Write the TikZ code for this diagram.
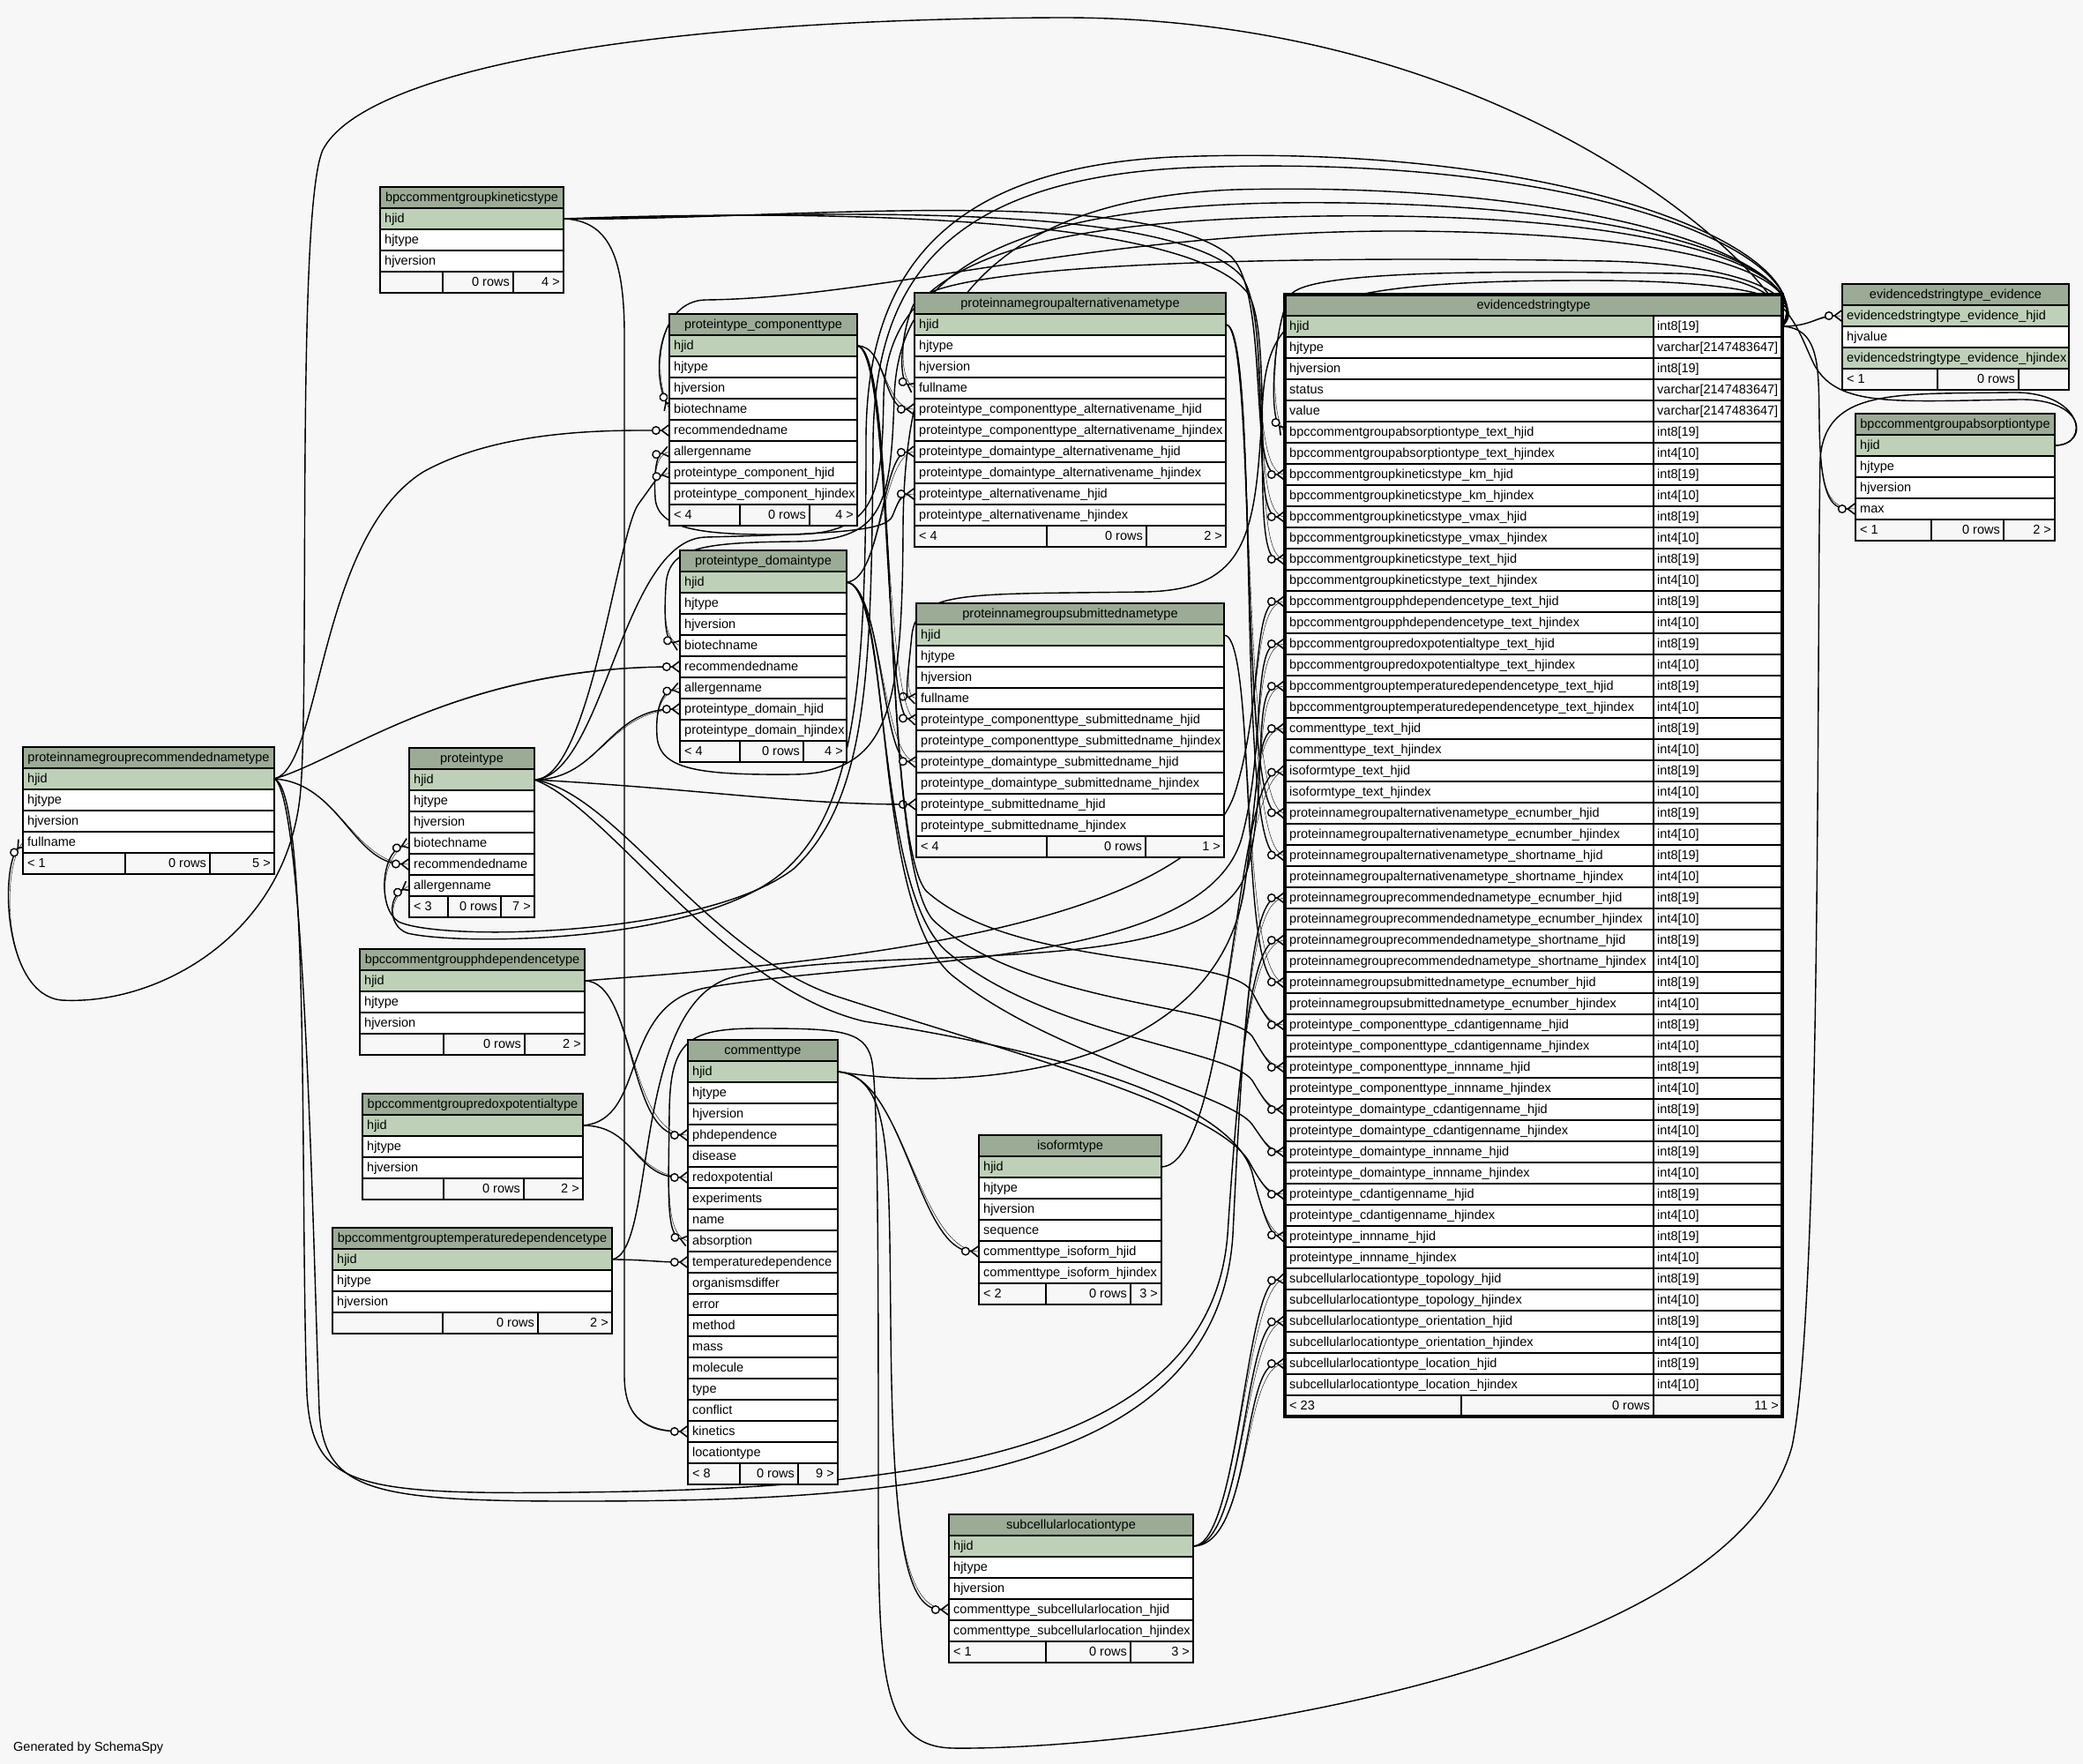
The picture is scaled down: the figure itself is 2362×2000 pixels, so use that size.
\documentclass[tikz,border=0pt]{standalone}
\usepackage{fontspec}
\setmainfont{Liberation Sans}
\usetikzlibrary{arrows.meta}

\definecolor{canvas}{HTML}{F7F7F7}
\definecolor{hdrfill}{HTML}{9BAB96}
\definecolor{keyfill}{HTML}{BED1B8}

\pgfdeclarelayer{canvaslayer}
\pgfdeclarelayer{edgelayer}
\pgfsetlayers{canvaslayer,edgelayer,main}

\tikzset{
  cell/.style={draw=black, line width=1.2pt},
  celltext/.style={inner sep=0pt, font=\fontsize{14.5}{17}\selectfont, text=black},
  fk/.style={line width=1.4pt, draw=black, preaction={draw, -},
    -{Circle[open, fill=white, length=10pt, width=10pt, line width=1.4pt] Straight Barb[reversed, length=8pt, width=12pt, line width=1.6pt]}},
}

% table: name, left x, top y, width, title, type-column x (0 = none), rows text/type/key
\newcommand{\dbtable}[7]{%
  \fill[hdrfill] (#2,#3) rectangle ++(#4,24);
  \draw[cell] (#2,#3) rectangle ++(#4,24);
  \node[celltext, anchor=base] (#1) at ({#2+#4/2},{#3+16.5}) {#5};
  \foreach \rtxt/\rtyp/\rkey [count=\ri] in {#7} {%
    \pgfmathsetmacro{\yt}{#3+24*\ri}%
    \ifnum\rkey=1 \fill[keyfill] (#2,\yt) rectangle ++(#4,24);\else\fill[white] (#2,\yt) rectangle ++(#4,24);\fi
    \ifdim #6pt>0pt
      \fill[white] (#6,\yt) rectangle ({#2+#4},{\yt+24});
      \draw[cell] (#6,\yt) -- ++(0,24);
      \node[celltext, anchor=base west] (#1-\ri-t) at ({#6+4},{\yt+16.5}) {\rtyp};
    \fi
    \draw[cell] (#2,\yt) rectangle ++(#4,24);
    \node[celltext, anchor=base west] (#1-\ri) at ({#2+5},{\yt+16.5}) {\rtxt};
    \coordinate (#1-\ri-w) at (#2,{\yt+12});
    \coordinate (#1-\ri-e) at ({#2+#4},{\yt+12});
  }%
}

% footer: name, x, y, width, divider 1, divider 2, left, middle, right
\newcommand{\dbfoot}[9]{%
  \fill[canvas] (#2,#3) rectangle ++(#4,24);
  \draw[cell] (#2,#3) rectangle ++(#4,24);
  \draw[cell] (#5,#3) -- ++(0,24) (#6,#3) -- ++(0,24);
  \node[celltext, anchor=base west] (#1-fl) at ({#2+5},{#3+16.5}) {#7};
  \node[celltext, anchor=base east] (#1-fm) at ({#6-4},{#3+16.5}) {#8};
  \node[celltext, anchor=base east] (#1-fr) at ({#2+#4-4},{#3+16.5}) {#9};
}

\begin{document}
\begin{tikzpicture}[x=1pt,y=-1pt]
\useasboundingbox (0,0) rectangle (2362,2000);
\begin{pgfonlayer}{canvaslayer}
  \fill[canvas] (0,0) rectangle (2362,2000);
\end{pgfonlayer}

% ---------- tables ----------
\dbtable{rec}{26}{847}{285}{proteinnamegrouprecommendednametype}{0}{hjid//1,hjtype//0,hjversion//0,fullname//0}
\dbfoot{rec}{26}{967}{285}{142}{238}{< 1}{0 rows}{5 >}

\dbtable{kin}{431}{212}{208}{bpccommentgroupkineticstype}{0}{hjid//1,hjtype//0,hjversion//0}
\dbfoot{kin}{431}{308}{208}{502}{582}{}{0 rows}{4 >}

\dbtable{comp}{759}{356}{213}{proteintype\_componenttype}{0}{hjid//1,hjtype//0,hjversion//0,biotechname//0,recommendedname//0,allergenname//0,proteintype\_component\_hjid//0,proteintype\_component\_hjindex//0}
\dbfoot{comp}{759}{572}{213}{839}{918}{< 4}{0 rows}{4 >}

\dbtable{dom}{771}{624}{189}{proteintype\_domaintype}{0}{hjid//1,hjtype//0,hjversion//0,biotechname//0,recommendedname//0,allergenname//0,proteintype\_domain\_hjid//0,proteintype\_domain\_hjindex//0}
\dbfoot{dom}{771}{840}{189}{839}{911}{< 4}{0 rows}{4 >}

\dbtable{alt}{1037}{332}{353}{proteinnamegroupalternativenametype}{0}{hjid//1,hjtype//0,hjversion//0,fullname//0,%
proteintype\_componenttype\_alternativename\_hjid//0,%
proteintype\_componenttype\_alternativename\_hjindex//0,%
proteintype\_domaintype\_alternativename\_hjid//0,%
proteintype\_domaintype\_alternativename\_hjindex//0,%
proteintype\_alternativename\_hjid//0,%
proteintype\_alternativename\_hjindex//0}
\dbfoot{alt}{1037}{596}{353}{1187}{1300}{< 4}{0 rows}{2 >}

\dbtable{sub}{1039}{684}{349}{proteinnamegroupsubmittednametype}{0}{hjid//1,hjtype//0,hjversion//0,fullname//0,%
proteintype\_componenttype\_submittedname\_hjid//0,%
proteintype\_componenttype\_submittedname\_hjindex//0,%
proteintype\_domaintype\_submittedname\_hjid//0,%
proteintype\_domaintype\_submittedname\_hjindex//0,%
proteintype\_submittedname\_hjid//0,%
proteintype\_submittedname\_hjindex//0}
\dbfoot{sub}{1039}{948}{349}{1187}{1299}{< 4}{0 rows}{1 >}

\dbtable{pt}{464}{848}{142}{proteintype}{0}{hjid//1,hjtype//0,hjversion//0,biotechname//0,recommendedname//0,allergenname//0}
\dbfoot{pt}{464}{1016}{142}{508}{568}{< 3}{0 rows}{7 >}

\dbtable{ph}{408}{1076}{255}{bpccommentgroupphdependencetype}{0}{hjid//1,hjtype//0,hjversion//0}
\dbfoot{ph}{408}{1172}{255}{503}{595}{}{0 rows}{2 >}

\dbtable{rx}{411}{1240}{250}{bpccommentgroupredoxpotentialtype}{0}{hjid//1,hjtype//0,hjversion//0}
\dbfoot{rx}{411}{1336}{250}{503}{594}{}{0 rows}{2 >}

\dbtable{tmp}{377}{1392}{317}{bpccommentgrouptemperaturedependencetype}{0}{hjid//1,hjtype//0,hjversion//0}
\dbfoot{tmp}{377}{1488}{317}{502}{610}{}{0 rows}{2 >}

\dbtable{cm}{780}{1179}{170}{commenttype}{0}{hjid//1,hjtype//0,hjversion//0,phdependence//0,disease//0,redoxpotential//0,experiments//0,name//0,absorption//0,temperaturedependence//0,organismsdiffer//0,error//0,method//0,mass//0,molecule//0,type//0,conflict//0,kinetics//0,locationtype//0}
\dbfoot{cm}{780}{1659}{170}{839}{905}{< 8}{0 rows}{9 >}

\dbtable{iso}{1110}{1287}{207}{isoformtype}{0}{hjid//1,hjtype//0,hjversion//0,sequence//0,commenttype\_isoform\_hjid//0,commenttype\_isoform\_hjindex//0}
\dbfoot{iso}{1110}{1455}{207}{1186}{1282}{< 2}{0 rows}{3 >}

\dbtable{scl}{1076}{1717}{277}{subcellularlocationtype}{0}{hjid//1,hjtype//0,hjversion//0,commenttype\_subcellularlocation\_hjid//0,commenttype\_subcellularlocation\_hjindex//0}
\dbfoot{scl}{1076}{1861}{277}{1186}{1282}{< 1}{0 rows}{3 >}

\dbtable{ev}{2089}{322}{257}{evidencedstringtype\_evidence}{0}{evidencedstringtype\_evidence\_hjid//1,hjvalue//0,evidencedstringtype\_evidence\_hjindex//1}
\dbfoot{ev}{2089}{418}{257}{2197}{2289}{< 1}{0 rows}{}

\dbtable{ab}{2104}{469}{226}{bpccommentgroupabsorptiontype}{0}{hjid//1,hjtype//0,hjversion//0,max//0}
\dbfoot{ab}{2104}{589}{226}{2190}{2272}{< 1}{0 rows}{2 >}

\dbtable{evid}{1457}{334}{564}{evidencedstringtype}{1875}{hjid/int8[19]/1,hjtype/varchar[2147483647]/0,hjversion/int8[19]/0,status/varchar[2147483647]/0,value/varchar[2147483647]/0,%
bpccommentgroupabsorptiontype\_text\_hjid/int8[19]/0,%
bpccommentgroupabsorptiontype\_text\_hjindex/int4[10]/0,%
bpccommentgroupkineticstype\_km\_hjid/int8[19]/0,%
bpccommentgroupkineticstype\_km\_hjindex/int4[10]/0,%
bpccommentgroupkineticstype\_vmax\_hjid/int8[19]/0,%
bpccommentgroupkineticstype\_vmax\_hjindex/int4[10]/0,%
bpccommentgroupkineticstype\_text\_hjid/int8[19]/0,%
bpccommentgroupkineticstype\_text\_hjindex/int4[10]/0,%
bpccommentgroupphdependencetype\_text\_hjid/int8[19]/0,%
bpccommentgroupphdependencetype\_text\_hjindex/int4[10]/0,%
bpccommentgroupredoxpotentialtype\_text\_hjid/int8[19]/0,%
bpccommentgroupredoxpotentialtype\_text\_hjindex/int4[10]/0,%
bpccommentgrouptemperaturedependencetype\_text\_hjid/int8[19]/0,%
bpccommentgrouptemperaturedependencetype\_text\_hjindex/int4[10]/0,%
commenttype\_text\_hjid/int8[19]/0,%
commenttype\_text\_hjindex/int4[10]/0,%
isoformtype\_text\_hjid/int8[19]/0,%
isoformtype\_text\_hjindex/int4[10]/0,%
proteinnamegroupalternativenametype\_ecnumber\_hjid/int8[19]/0,%
proteinnamegroupalternativenametype\_ecnumber\_hjindex/int4[10]/0,%
proteinnamegroupalternativenametype\_shortname\_hjid/int8[19]/0,%
proteinnamegroupalternativenametype\_shortname\_hjindex/int4[10]/0,%
proteinnamegrouprecommendednametype\_ecnumber\_hjid/int8[19]/0,%
proteinnamegrouprecommendednametype\_ecnumber\_hjindex/int4[10]/0,%
proteinnamegrouprecommendednametype\_shortname\_hjid/int8[19]/0,%
proteinnamegrouprecommendednametype\_shortname\_hjindex/int4[10]/0,%
proteinnamegroupsubmittednametype\_ecnumber\_hjid/int8[19]/0,%
proteinnamegroupsubmittednametype\_ecnumber\_hjindex/int4[10]/0,%
proteintype\_componenttype\_cdantigenname\_hjid/int8[19]/0,%
proteintype\_componenttype\_cdantigenname\_hjindex/int4[10]/0,%
proteintype\_componenttype\_innname\_hjid/int8[19]/0,%
proteintype\_componenttype\_innname\_hjindex/int4[10]/0,%
proteintype\_domaintype\_cdantigenname\_hjid/int8[19]/0,%
proteintype\_domaintype\_cdantigenname\_hjindex/int4[10]/0,%
proteintype\_domaintype\_innname\_hjid/int8[19]/0,%
proteintype\_domaintype\_innname\_hjindex/int4[10]/0,%
proteintype\_cdantigenname\_hjid/int8[19]/0,%
proteintype\_cdantigenname\_hjindex/int4[10]/0,%
proteintype\_innname\_hjid/int8[19]/0,%
proteintype\_innname\_hjindex/int4[10]/0,%
subcellularlocationtype\_topology\_hjid/int8[19]/0,%
subcellularlocationtype\_topology\_hjindex/int4[10]/0,%
subcellularlocationtype\_orientation\_hjid/int8[19]/0,%
subcellularlocationtype\_orientation\_hjindex/int4[10]/0,%
subcellularlocationtype\_location\_hjid/int8[19]/0,%
subcellularlocationtype\_location\_hjindex/int4[10]/0}
\dbfoot{evid}{1457}{1582}{564}{1657}{1875}{< 23}{0 rows}{11 >}
\draw[line width=3.5pt] (1457,334) rectangle (2021,1606);

\node[celltext, anchor=base west] (credit) at (15,1985) {Generated by SchemaSpy};

% ---------- foreign keys ----------
\begin{pgfonlayer}{edgelayer}
% evidencedstringtype.hjid to the columns that refer to it
\draw[fk] (evid-1-e) .. controls (2055,370) and (2060,358) .. (ev-1-w);
\draw[fk] (evid-1-e) .. controls (2065,372) and (2062,420) .. (2063,480) .. controls (2064,560) and (2075,577) .. (ab-4-w);
\draw[fk] (evid-1-e) .. controls (2048,345) and (2000,300) .. (1820,296) .. controls (1500,290) and (1060,295) .. (1036,345) .. controls (1022,375) and (1018,430) .. (alt-4-w);
\draw[fk] (evid-1-e) .. controls (2050,340) and (1990,318) .. (1800,318) .. controls (1480,318) and (1440,350) .. (1432,450) .. controls (1424,600) and (1420,668) .. (1300,671) .. controls (1100,674) and (1040,668) .. (1034,720) .. controls (1030,760) and (1026,790) .. (sub-4-w);
\draw[fk] (evid-1-e) .. controls (2055,320) and (1950,265) .. (1600,262) .. controls (1250,260) and (1000,338) .. (800,340) .. controls (748,341) and (738,420) .. (comp-4-w);
\draw[fk] (evid-1-e) .. controls (2060,310) and (1900,240) .. (1500,245) .. controls (1150,250) and (1005,300) .. (1002,450) .. controls (1000,560) and (995,605) .. (900,606) .. controls (800,607) and (746,602) .. (743,565) .. controls (741,535) and (745,515) .. (comp-6-w);
\draw[fk] (evid-1-e) .. controls (2062,300) and (1850,225) .. (1450,230) .. controls (1100,236) and (1018,330) .. (1014,450) .. controls (1010,580) and (1000,613) .. (900,614) .. controls (790,615) and (757,622) .. (755,665) .. controls (753,700) and (754,725) .. (dom-4-w);
\draw[fk] (evid-1-e) .. controls (2066,295) and (1800,205) .. (1400,215) .. controls (1080,228) and (1025,400) .. (1024,600) .. controls (1023,800) and (1010,877) .. (900,878) .. controls (790,879) and (748,872) .. (745,835) .. controls (743,805) and (750,785) .. (dom-6-w);
\draw[fk] (evid-1-e) .. controls (2066,290) and (1800,172) .. (1350,190) .. controls (1060,203) and (992,330) .. (990,500) .. controls (988,760) and (985,905) .. (900,985) .. controls (800,1062) and (500,1068) .. (452,1045) .. controls (428,1030) and (432,968) .. (pt-4-w);
\draw[fk] (evid-1-e) .. controls (2068,285) and (1780,160) .. (1330,178) .. controls (1050,192) and (982,330) .. (982,500) .. controls (982,770) and (972,925) .. (880,995) .. controls (780,1070) and (520,1072) .. (462,1058) .. controls (440,1050) and (440,1018) .. (pt-6-w);
\draw[fk] (evid-1-e) .. controls (2045,345) and (1750,18) .. (1200,20) .. controls (700,22) and (410,85) .. (366,170) .. controls (335,240) and (352,800) .. (340,905) .. controls (322,1060) and (180,1140) .. (70,1134) .. controls (4,1128) and (0,985) .. (rec-4-w);

% bpccommentgroupabsorptiontype.hjid
\draw[fk] (ab-1-e) .. controls (2368,505) and (2368,452) .. (2290,453) .. controls (2150,455) and (2085,462) .. (2058,415) .. controls (2035,370) and (2030,312) .. (1900,310) .. controls (1700,307) and (1480,306) .. (1463,335) .. controls (1445,365) and (1438,470) .. (evid-6-w);
\draw[fk] (ab-1-e) .. controls (2372,505) and (2362,443) .. (2280,445) .. controls (2150,447) and (2070,440) .. (2064,520) .. controls (2060,700) and (2066,1480) .. (2032,1640) .. controls (1960,1900) and (1300,1985) .. (1080,1982) .. controls (1000,1980) and (996,1900) .. (996,1700) .. controls (996,1450) and (996,1230) .. (988,1200) .. controls (980,1168) and (950,1166) .. (860,1166) .. controls (780,1166) and (760,1180) .. (759,1260) .. controls (758,1350) and (755,1400) .. (cm-9-w);

% bpccommentgroupkineticstype.hjid
\draw[fk] (kin-1-e) .. controls (850,252) and (1290,205) .. (1395,290) .. controls (1440,330) and (1415,538) .. (evid-8-w);
\draw[fk] (kin-1-e) .. controls (850,246) and (1310,220) .. (1405,310) .. controls (1445,350) and (1415,586) .. (evid-10-w);
\draw[fk] (kin-1-e) .. controls (850,240) and (1330,235) .. (1413,330) .. controls (1448,370) and (1415,634) .. (evid-12-w);
\draw[fk] (kin-1-e) .. controls (690,250) and (708,290) .. (708,380) -- (708,1560) .. controls (708,1610) and (735,1623) .. (cm-18-w);

% ph, redox and temperature groups
\draw[fk] (ph-1-e) .. controls (720,1112) and (712,1287) .. (cm-4-w);
\draw[fk] (ph-1-e) .. controls (800,1100) and (1340,1075) .. (1400,900) .. controls (1432,800) and (1420,682) .. (evid-14-w);
\draw[fk] (rx-1-e) .. controls (720,1276) and (720,1335) .. (cm-6-w);
\draw[fk] (rx-1-e) .. controls (735,1270) and (700,1140) .. (800,1120) .. controls (1000,1085) and (1365,1100) .. (1408,950) .. controls (1435,850) and (1420,730) .. (evid-16-w);
\draw[fk] (tmp-1-e) .. controls (730,1428) and (745,1431) .. (cm-10-w);
\draw[fk] (tmp-1-e) .. controls (745,1420) and (715,1140) .. (830,1108) .. controls (1000,1065) and (1385,1120) .. (1416,980) .. controls (1438,880) and (1420,778) .. (evid-18-w);

% commenttype.hjid
\draw[fk] (cm-1-e) .. controls (1025,1218) and (1040,1417) .. (iso-5-w);
\draw[fk] (cm-1-e) .. controls (1010,1222) and (1008,1300) .. (1010,1500) .. controls (1012,1760) and (1030,1825) .. (scl-4-w);
\draw[fk] (cm-1-e) .. controls (1100,1240) and (1385,1215) .. (1412,1000) .. controls (1428,880) and (1425,826) .. (evid-20-w);

% isoformtype and subcellularlocationtype
\draw[fk] (iso-1-e) .. controls (1395,1320) and (1400,880) .. (evid-22-w);
\draw[fk] (scl-1-e) .. controls (1405,1752) and (1412,1455) .. (evid-46-w);
\draw[fk] (scl-1-e) .. controls (1412,1752) and (1410,1500) .. (evid-48-w);
\draw[fk] (scl-1-e) .. controls (1420,1752) and (1408,1546) .. (evid-50-w);

% name groups
\draw[fk] (alt-1-e) .. controls (1425,368) and (1405,920) .. (evid-24-w);
\draw[fk] (alt-1-e) .. controls (1430,368) and (1400,968) .. (evid-26-w);
\draw[fk] (sub-1-e) .. controls (1425,720) and (1405,1112) .. (evid-32-w);
\draw[fk] (rec-1-e) .. controls (365,870) and (360,610) .. (480,535) .. controls (570,485) and (700,488) .. (comp-5-w);
\draw[fk] (rec-1-e) .. controls (390,860) and (520,756) .. (dom-5-w);
\draw[fk] (rec-1-e) .. controls (385,888) and (400,978) .. (pt-5-w);
\draw[fk] (rec-1-e) .. controls (345,900) and (355,1400) .. (362,1600) .. controls (368,1690) and (420,1702) .. (650,1702) .. controls (1000,1702) and (1380,1685) .. (1398,1400) .. controls (1410,1150) and (1420,1018) .. (evid-28-w);
\draw[fk] (rec-1-e) .. controls (352,895) and (340,1350) .. (348,1580) .. controls (354,1685) and (400,1695) .. (650,1692) .. controls (1040,1688) and (1372,1650) .. (1392,1400) .. controls (1405,1200) and (1420,1066) .. (evid-30-w);

% proteintype.hjid
\draw[fk] (pt-1-e) .. controls (670,884) and (700,600) .. (725,570) .. controls (740,550) and (745,540) .. (comp-7-w);
\draw[fk] (pt-1-e) .. controls (680,884) and (690,804) .. (dom-7-w);
\draw[fk] (pt-1-e) .. controls (685,880) and (705,612) .. (800,609) .. controls (950,605) and (1005,602) .. (1012,585) .. controls (1018,570) and (1022,560) .. (alt-9-w);
\draw[fk] (pt-1-e) .. controls (800,895) and (900,912) .. (sub-9-w);
\draw[fk] (pt-1-e) .. controls (700,900) and (800,1080) .. (950,1130) .. controls (1150,1195) and (1385,1255) .. (1418,1320) .. controls (1432,1345) and (1440,1354) .. (evid-42-w);
\draw[fk] (pt-1-e) .. controls (690,915) and (820,1120) .. (980,1158) .. controls (1250,1200) and (1400,1260) .. (1420,1330) .. controls (1430,1370) and (1440,1400) .. (evid-44-w);

% proteintype_componenttype.hjid
\draw[fk] (comp-1-e) .. controls (1005,392) and (1002,464) .. (alt-5-w);
\draw[fk] (comp-1-e) .. controls (1010,398) and (1002,812) .. (sub-5-w);
\draw[fk] (comp-1-e) .. controls (1018,396) and (1000,950) .. (1050,1010) .. controls (1150,1100) and (1395,1080) .. (1420,1125) .. controls (1432,1148) and (1440,1162) .. (evid-34-w);
\draw[fk] (comp-1-e) .. controls (1022,396) and (995,985) .. (1060,1045) .. controls (1165,1140) and (1395,1140) .. (1420,1175) .. controls (1432,1195) and (1440,1210) .. (evid-36-w);

% proteintype_domaintype.hjid
\draw[fk] (dom-1-e) .. controls (1000,658) and (1000,514) .. (alt-7-w);
\draw[fk] (dom-1-e) .. controls (1000,664) and (1000,862) .. (sub-7-w);
\draw[fk] (dom-1-e) .. controls (1010,666) and (990,1010) .. (1075,1080) .. controls (1190,1175) and (1395,1190) .. (1420,1225) .. controls (1432,1245) and (1440,1258) .. (evid-38-w);
\draw[fk] (dom-1-e) .. controls (1015,666) and (985,1040) .. (1085,1110) .. controls (1200,1200) and (1395,1240) .. (1420,1275) .. controls (1432,1292) and (1440,1306) .. (evid-40-w);
\end{pgfonlayer}
\end{tikzpicture}
\end{document}
